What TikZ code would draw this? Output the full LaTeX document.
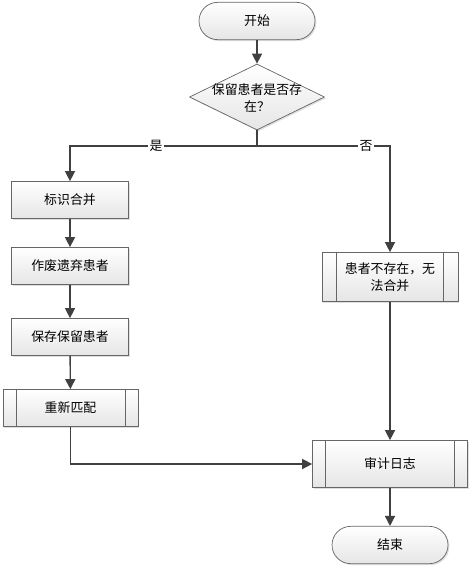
\documentclass[tikz,border=0pt]{standalone}
\usepackage{fontspec}
\setmainfont{Noto Sans CJK SC}
\usetikzlibrary{arrows.meta,shapes.geometric,shadows}

\begin{document}
\begin{tikzpicture}[
    x=0.3mm, y=-0.3mm,
    every node/.style={font=\fontsize{11}{15}\selectfont},
    base/.style={draw=black!60, line width=0.6pt, top color=white, bottom color=black!10,
      drop shadow={shadow xshift=1.2pt, shadow yshift=-1.2pt, opacity=0.25}},
    terminal/.style={base, minimum width=34.8mm, minimum height=11.2mm, rounded corners=5.6mm},
    box/.style={base, minimum width=35.1mm, minimum height=11.1mm},
    subproc/.style={base, path picture={
        \draw[black!60, line width=0.6pt] ([xshift=#1]path picture bounding box.north west) -- ([xshift=#1]path picture bounding box.south west);
        \draw[black!60, line width=0.6pt] ([xshift=-#1]path picture bounding box.north east) -- ([xshift=-#1]path picture bounding box.south east);}},
    decision/.style={base, diamond, inner sep=0pt, minimum width=40.5mm, minimum height=19.8mm},
    flow/.style={draw=black!75, line width=1.2pt, -{Triangle[length=3mm,width=3mm]}},
    link/.style={draw=black!75, line width=1.2pt},
    tag/.style={fill=white, inner sep=1pt}
  ]
  \useasboundingbox (0,0) rectangle (473,570);

  % start and decision
  \node[terminal] (start) at (257,21) {开始};
  \node[decision] (check) at (257,97) {};
  \node[align=center] (checktxt) at (257,98) {保留患者是否存\\在？};
  \coordinate (split) at (257,146);

  % left branch
  \node[box] (mark) at (70,200) {标识合并};
  \node[box] (void) at (70,266) {作废遗弃患者};
  \node[box] (keep) at (70,337) {保存保留患者};
  \node[subproc=3.9mm, minimum width=40.5mm, minimum height=11.1mm] (rematch) at (70.5,408) {重新匹配};

  % right branch
  \node[subproc=4.3mm, minimum width=40.8mm, minimum height=14.7mm, align=center] (nomerge) at (390,277) {患者不存在，无\\法合并};
  \node[subproc=4mm, minimum width=46.5mm, minimum height=14.1mm] (audit) at (390,464) {审计日志};
  \node[terminal] (stop) at (390,545) {结束};

  % connectors
  \draw[flow] (start) -- (check);
  \draw[link] (check.south) -- (split);
  \draw[flow] (split) -| node[tag, pos=0.27] {是} (mark.north);
  \draw[flow] (split) -| node[tag, pos=0.41] {否} (nomerge.north);
  \draw[flow] (mark) -- (void);
  \draw[flow] (void) -- (keep);
  \draw[flow] (keep) -- (rematch);
  \draw[flow] (rematch.south) |- (audit.west);
  \draw[flow] (nomerge) -- (audit);
  \draw[flow] (audit) -- (stop);

\end{tikzpicture}
\end{document}
